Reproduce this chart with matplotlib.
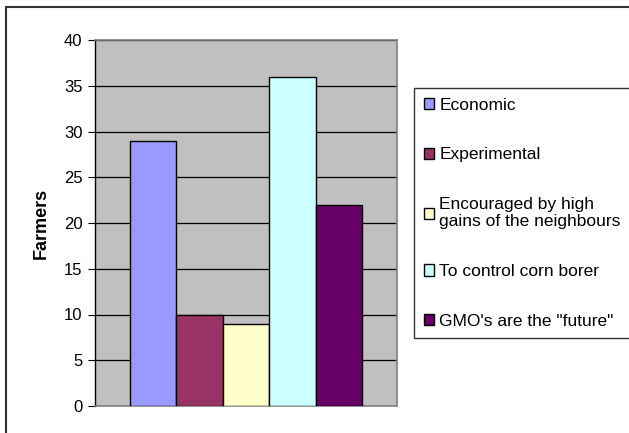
import numpy as np
import matplotlib
matplotlib.use("Agg")
import matplotlib.pyplot as plt
from matplotlib.patches import Rectangle

plt.rcParams['font.family'] = ['Liberation Sans', 'DejaVu Sans']

reasons = ['Economic', 'Experimental', 'Encouraged by high\ngains of the neighbours',
           'To control corn borer', 'GMO\'s are the "future"']
farmers = [29, 10, 9, 36, 22]
colors = ['#9999FF', '#993366', '#FFFFCC', '#CCFFFF', '#660066']
yticks = [0, 5, 10, 15, 20, 25, 30, 35, 40]

fig = plt.figure(figsize=(6.29, 4.33), dpi=100)
ax = fig.add_axes([95/629, 1-406/433, 302/629, 366/433])
ax.set_facecolor('#C0C0C0')

x = np.arange(len(farmers))
for i in range(len(farmers)):
    ax.bar(x[i], farmers[i], width=1.0, color=colors[i], edgecolor='black',
           linewidth=1.0, label=reasons[i], zorder=3)

ax.set_xlim(-1.255, 5.255)
ax.set_ylim(0, 40)
ax.set_yticks(yticks)
ax.set_xticks([])
ax.yaxis.grid(True, color='black', linewidth=0.9, zorder=1)
ax.set_axisbelow(True)
ax.tick_params(axis='y', direction='out', length=5, width=0.8, labelsize=12, pad=4)
for s in ['top', 'right', 'bottom']:
    ax.spines[s].set_color('#808080')
    ax.spines[s].set_linewidth(1.2)
ax.spines['left'].set_color('black')
ax.spines['left'].set_linewidth(1.0)
ax.set_ylabel('Farmers', fontsize=13, fontweight='bold', labelpad=10)

leg = fig.legend(loc='upper left', bbox_to_anchor=(414/629, 1-88/433),
                 fontsize=12.5, frameon=True, fancybox=False, shadow=False,
                 handlelength=0.6, handleheight=0.6, handletextpad=0.3,
                 labelspacing=2.0, borderpad=0.55, borderaxespad=0)
leg.get_frame().set_edgecolor('black')
leg.get_frame().set_linewidth(1.0)
for h in leg.legend_handles:
    h.set_linewidth(1.0)

# outer chart frame
fig.patches.append(Rectangle((6/629, -0.1), 1.0, 1-7/433+0.1, transform=fig.transFigure,
                             fill=False, edgecolor='#333333', linewidth=1.5))

fig.savefig('out.png', dpi=100)
